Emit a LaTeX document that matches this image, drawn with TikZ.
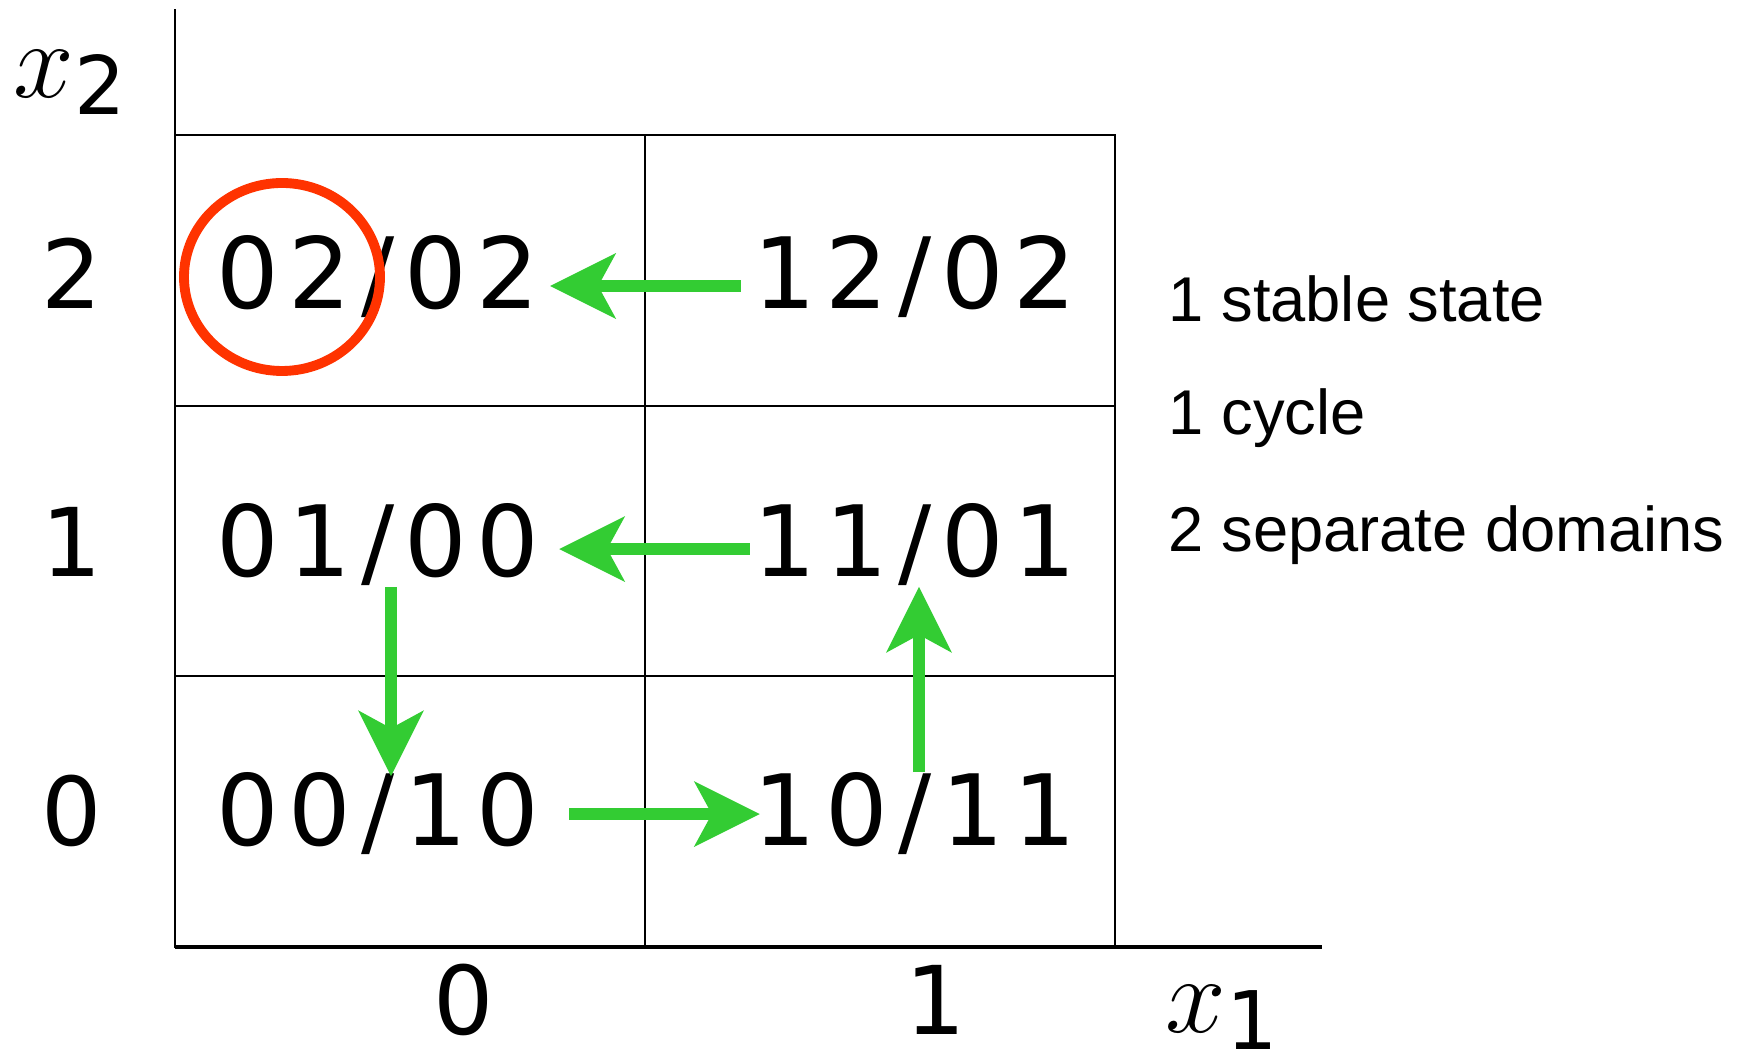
\RequirePackage{fix-cm}
\documentclass[tikz,border=0pt]{standalone}
\usepackage{fontspec}
\usepackage{tikz}
\usetikzlibrary{arrows.meta, shapes.geometric}
\newfontfamily\cellfont[LetterSpace=10]{DejaVu Sans}
\newfontfamily\digitfont{DejaVu Sans}
\newfontfamily\notefont{Liberation Sans}
\definecolor{flowgreen}{RGB}{51,204,51}
\definecolor{stablered}{RGB}{255,51,0}
\newcommand\axisvar[2]{$#1$\lower0.17cm\hbox{\digitfont\fontsize{23}{28}\selectfont#2}}
\tikzset{
  cell/.style={inner sep=0pt, anchor=base, font=\cellfont\fontsize{28}{34}\selectfont},
  axislabel/.style={inner sep=0pt, anchor=base, font=\digitfont\fontsize{27}{33}\selectfont},
  varlabel/.style={inner sep=0pt, anchor=base, font=\fontsize{31}{37}\selectfont},
  note/.style={inner sep=0pt, anchor=base west, font=\notefont\fontsize{18}{22}\selectfont},
  gridline/.style={draw, line width=0.8pt},
  flow/.style={draw=flowgreen, line width=3.4pt,
    -{Stealth[length=6.6mm, width=6.6mm, inset=1.8mm, line width=0pt]}},
  stablemark/.style={ellipse, draw=stablered, line width=2.8pt,
    minimum width=1.96cm, minimum height=1.88cm, inner sep=0pt},
}

\begin{document}
\begin{tikzpicture}
  \useasboundingbox (-1.75,-1.10) rectangle (15.65,9.47);

  % state table
  \draw[gridline] (0,0) rectangle (9.40,8.12);
  \draw[gridline] (4.70,0) -- (4.70,8.12);
  \foreach \y in {2.71,5.41}
    \draw[gridline] (0,\y) -- (9.40,\y);
  \draw[gridline] (0,8.12) -- (0,9.38);
  \draw[line width=1.1pt] (0,0) -- (11.47,0);

  % axis labels
  \node[varlabel] (x2lab) at (-1.05,8.49) {\axisvar{x}{2}};
  \node[axislabel] (r2) at (-1.03,6.38) {2};
  \node[axislabel] (r1) at (-1.03,3.70) {1};
  \node[axislabel] (r0) at (-1.03,1.01) {0};
  \node[axislabel] (c0) at (2.89,-0.88) {0};
  \node[axislabel] (c1) at (7.61,-0.88) {1};
  \node[varlabel, anchor=base west] (x1lab) at (9.90,-0.86) {\axisvar{x}{1}};

  % states
  \node[cell] (n02) at (2.03,6.38) {02/02};
  \node[cell] (n12) at (7.40,6.38) {12/02};
  \node[cell] (n01) at (2.03,3.70) {01/00};
  \node[cell] (n11) at (7.40,3.70) {11/01};
  \node[cell] (n00) at (2.03,1.01) {00/10};
  \node[cell] (n10) at (7.40,1.01) {10/11};

  \node[stablemark] (stab) at (1.07,6.70) {};

  % transitions
  \draw[flow] ([xshift=-1.2mm, yshift=-0.9mm]n12.west) -- ([xshift=1.0mm, yshift=-0.9mm]n02.east);
  \draw[flow] ([xshift=-0.3mm, yshift=-0.4mm]n11.west) -- ([xshift=1.9mm, yshift=-0.4mm]n01.east);
  \draw[flow] ([xshift=2.9mm]n00.east) -- ([xshift=0.7mm]n10.west);
  \draw[flow] ([xshift=1.3mm]n01.south) -- ([xshift=1.3mm, yshift=-0.4mm]n00.north);
  \draw[flow] ([xshift=0.4mm]n10.north) -- ([xshift=0.4mm]n11.south);

  % summary
  \node[note] (nstable) at (9.93,6.25) {1 stable state};
  \node[note] (ncycle) at (9.93,5.12) {1 cycle};
  \node[note] (ndomain) at (9.93,3.95) {2 separate domains};
\end{tikzpicture}
\end{document}
